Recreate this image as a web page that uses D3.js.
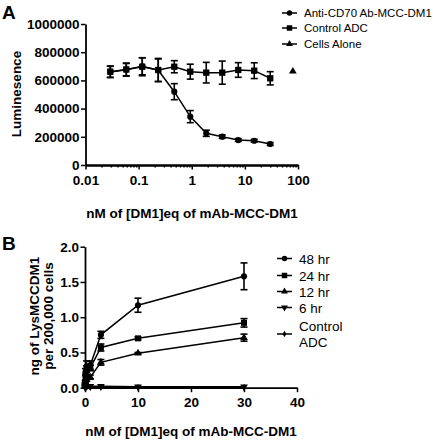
<!DOCTYPE html>
<html><head><meta charset="utf-8">
<script src="https://cdn.jsdelivr.net/npm/d3@7"></script>
<style>body{margin:0;background:#fff}svg{display:block}text{font-family:"Liberation Sans",Arial,sans-serif}</style>
</head><body><svg id="c" width="433" height="440"></svg>
<script>
// ---- Panel A data ----
const doseA = [0.0293, 0.0586, 0.117, 0.234, 0.469, 0.9375, 1.875, 3.75, 7.5, 15, 30];
const antiCD70 = [660000, 675000, 700000, 672000, 520000, 343000, 225000, 201000, 177000, 172000, 149000];
const antiCD70Err = [40000, 45000, 60000, 80000, 57000, 43000, 22000, 12000, 10000, 10000, 10000];
const controlA = [662000, 678000, 697000, 674000, 697000, 662000, 655000, 655000, 674000, 669000, 615000];
const controlAErr = [40000, 45000, 64000, 82000, 43000, 53000, 73000, 82000, 52000, 56000, 47000];
const cellsDose = [80];
const cellsAlone = [664000];
const seriesA = ["Anti-CD70 Ab-MCC-DM1", "Control ADC", "Cells Alone"];
const xTicksA = [0.01, 0.1, 1, 10, 100];
const xTickLabelsA = ["0.01", "0.1", "1", "10", "100"];
const yTicksA = [0, 200000, 400000, 600000, 800000, 1000000];

// ---- Panel B data ----
const doseB = [0.03, 0.1, 0.3, 1, 3, 10, 30];
const hr48 = [0.08, 0.22, 0.30, 0.32, 0.75, 1.17, 1.58];
const hr48Err = [0.02, 0.05, 0.08, 0.06, 0.05, 0.10, 0.19];
const hr24 = [0.05, 0.15, 0.25, 0.28, 0.57, 0.70, 0.92];
const hr24Err = [0.02, 0.04, 0.06, 0.04, 0.05, 0.02, 0.06];
const hr12 = [0.03, 0.08, 0.12, 0.15, 0.36, 0.49, 0.71];
const hr12Err = [0.01, 0.02, 0.03, 0.03, 0.04, 0.01, 0.05];
const hr6 = [0.01, 0.02, 0.02, 0.02, 0.02, 0.015, 0.012];
const controlB = [0.0, 0.005, 0.005, 0.005, 0.005, 0.005, 0.005];
const seriesB = ["48 hr", "24 hr", "12 hr", "6 hr", "Control ADC"];
const xTicksB = [0, 10, 20, 30, 40];
const yTicksB = [0, 0.5, 1.0, 1.5, 2.0];

const svg = d3.select("#c");
const F = "Liberation Sans, Arial, sans-serif";

function sym(type, size, rot) {
  return d3.symbol().type(type).size(size)();
}
function drawSeries(g, xs, ys, errs, x, y, type, size, rot) {
  const pts = xs.map((d, i) => ({x: d, y: ys[i], e: errs ? errs[i] : 0}));
  g.append("path").datum(pts)
    .attr("d", d3.line().x(d => x(d.x)).y(d => y(d.y)))
    .attr("fill", "none").attr("stroke", "#000").attr("stroke-width", 1.5);
  if (errs) {
    const eb = g.append("g").attr("stroke", "#000").attr("stroke-width", 1.6);
    pts.forEach(p => {
      if (p.e <= 0) return;
      const cx = x(p.x), t = y(p.y + p.e), b = y(p.y - p.e);
      eb.append("line").attr("x1", cx).attr("x2", cx).attr("y1", t).attr("y2", b);
      eb.append("line").attr("x1", cx - 3.5).attr("x2", cx + 3.5).attr("y1", t).attr("y2", t);
      eb.append("line").attr("x1", cx - 3.5).attr("x2", cx + 3.5).attr("y1", b).attr("y2", b);
    });
  }
  g.selectAll(null).data(pts).enter().append("path")
    .attr("d", sym(type, size))
    .attr("transform", d => `translate(${x(d.x)},${y(d.y)}) rotate(${rot||0})`)
    .attr("fill", "#000");
}
function styleAxis(g) {
  g.selectAll("path.domain").attr("stroke", "#000").attr("stroke-width", 1.8);
  g.selectAll(".tick line").attr("stroke", "#000").attr("stroke-width", 1.5);
  g.selectAll("text").attr("font-family", F).attr("font-size", "13.5px").attr("font-weight", "bold").attr("fill", "#000");
}
function legend(x0, rows, fs) {
  rows.forEach(r => {
    const g = svg.append("g");
    g.append("line").attr("x1", x0).attr("x2", x0 + 15).attr("y1", r.y).attr("y2", r.y)
      .attr("stroke", "#000").attr("stroke-width", 1.5);
    g.append("path").attr("d", sym(r.type, r.size))
      .attr("transform", `translate(${x0 + 7.5},${r.y}) rotate(${r.rot||0})`).attr("fill", "#000");
    const t = g.append("text").attr("x", x0 + 22).attr("font-size", fs + "px").attr("font-family", F).attr("fill", "#000");
    r.lines.forEach((l, i) => t.append("tspan").attr("x", x0 + 22).attr("y", r.ty + i * r.lh).text(l));
  });
}

// ===== Panel A =====
const xA = d3.scaleLog().domain([0.01, 100]).range([85.5, 298]);
const yA = d3.scaleLinear().domain([0, 1000000]).range([165, 24]);
const gA = svg.append("g");

const minorA = [];
for (let e = -2; e < 2; e++) for (let m = 2; m <= 9; m++) minorA.push(m * Math.pow(10, e));
const axMinor = gA.append("g").attr("transform", "translate(0,165)")
  .call(d3.axisBottom(xA).tickValues(minorA).tickSize(2.5).tickSizeOuter(0).tickFormat(""));
styleAxis(axMinor);
const axXA = gA.append("g").attr("transform", "translate(0,165)")
  .call(d3.axisBottom(xA).tickValues(xTicksA).tickSize(4.5).tickSizeOuter(0)
    .tickFormat((d, i) => xTickLabelsA[i]));
styleAxis(axXA);
axXA.selectAll("text").attr("dy", "0").attr("y", 20);
const axYA = gA.append("g").attr("transform", "translate(85.5,0)")
  .call(d3.axisLeft(yA).tickValues(yTicksA).tickSize(4.5).tickSizeOuter(0).tickFormat(d3.format("d")));
styleAxis(axYA);
axYA.selectAll("text").attr("x", -6);

drawSeries(gA, doseA, controlA, controlAErr, xA, yA, d3.symbolSquare, 40);
drawSeries(gA, doseA, antiCD70, antiCD70Err, xA, yA, d3.symbolCircle, 30);
drawSeries(gA, cellsDose, cellsAlone, null, xA, yA, d3.symbolTriangle, 26);

svg.append("text").attr("x", 2).attr("y", 19).attr("font-size", "19px").attr("font-weight", "bold").attr("font-family", F).text("A");
svg.append("text").attr("transform", "translate(21,94) rotate(-90)").attr("text-anchor", "middle")
  .attr("font-size", "13.5px").attr("font-weight", "bold").attr("font-family", F).text("Luminesence");
svg.append("text").attr("x", 192).attr("y", 218).attr("text-anchor", "middle")
  .attr("font-size", "13.5px").attr("font-weight", "bold").attr("font-family", F).text("nM of [DM1]eq of mAb-MCC-DM1");

legend(282, [
  {y: 13, ty: 17, lh: 0, lines: [seriesA[0]], type: d3.symbolCircle, size: 24},
  {y: 28, ty: 32, lh: 0, lines: [seriesA[1]], type: d3.symbolSquare, size: 30},
  {y: 44, ty: 48, lh: 0, lines: [seriesA[2]], type: d3.symbolTriangle, size: 20}
], 11.5);

// ===== Panel B =====
const xB = d3.scaleLinear().domain([0, 40]).range([85, 297]);
const yB = d3.scaleLinear().domain([0, 2]).range([387.7, 246.7]);
const gB = svg.append("g");
const axXB = gB.append("g").attr("transform", "translate(0,387.7)")
  .call(d3.axisBottom(xB).tickValues(xTicksB).tickSize(4.5).tickSizeOuter(0).tickFormat(d3.format("d")));
styleAxis(axXB);
axXB.selectAll("text").attr("dy", "0").attr("y", 19);
const axYB = gB.append("g").attr("transform", "translate(85,0)")
  .call(d3.axisLeft(yB).tickValues(yTicksB).tickSize(4.5).tickSizeOuter(0).tickFormat(d3.format(".1f")));
styleAxis(axYB);
axYB.selectAll("text").attr("x", -6);

drawSeries(gB, doseB, hr48, hr48Err, xB, yB, d3.symbolCircle, 30);
drawSeries(gB, doseB, hr24, hr24Err, xB, yB, d3.symbolSquare, 36);
drawSeries(gB, doseB, hr12, hr12Err, xB, yB, d3.symbolTriangle, 26);
drawSeries(gB, doseB, hr6, null, xB, yB, d3.symbolTriangle, 26, 180);
drawSeries(gB, doseB, controlB, null, xB, yB, d3.symbolDiamond, 14);

svg.append("text").attr("x", 2).attr("y", 250).attr("font-size", "19px").attr("font-weight", "bold").attr("font-family", F).text("B");
const tB = svg.append("text").attr("transform", "translate(39,316) rotate(-90)").attr("text-anchor", "middle")
  .attr("font-size", "13.5px").attr("font-weight", "bold").attr("font-family", F);
tB.append("tspan").attr("x", 0).attr("y", 0).text("ng of LysMCCDM1");
tB.append("tspan").attr("x", 0).attr("y", 13.5).text("per 200,000 cells");
svg.append("text").attr("x", 191).attr("y", 436).attr("text-anchor", "middle")
  .attr("font-size", "13.5px").attr("font-weight", "bold").attr("font-family", F).text("nM of [DM1]eq of mAb-MCC-DM1");

legend(277, [
  {y: 258.5, ty: 263.5, lh: 0, lines: [seriesB[0]], type: d3.symbolCircle, size: 24},
  {y: 275.5, ty: 280.5, lh: 0, lines: [seriesB[1]], type: d3.symbolSquare, size: 30},
  {y: 291.5, ty: 296.5, lh: 0, lines: [seriesB[2]], type: d3.symbolTriangle, size: 20},
  {y: 307.5, ty: 312.5, lh: 0, lines: [seriesB[3]], type: d3.symbolTriangle, size: 20, rot: 180},
  {y: 334, ty: 330.5, lh: 16.5, lines: ["Control", "ADC"], type: d3.symbolDiamond, size: 12}
], 13.5);
</script></body></html>
